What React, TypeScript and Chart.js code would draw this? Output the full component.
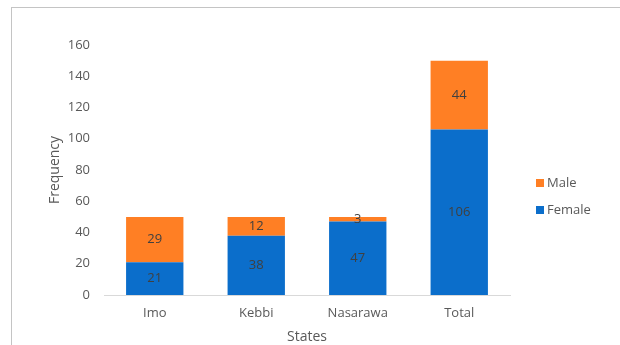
import React, { useEffect, useRef } from "react";
import { Chart, registerables } from "chart.js";

Chart.register(...registerables);

const categories = ["Imo", "Kebbi", "Nasarawa", "Total"];
const femaleValues = [21, 38, 47, 106];
const maleValues = [29, 12, 3, 44];
const yTicks = [0, 20, 40, 60, 80, 100, 120, 140, 160];

const FONT = "'Open Sans', sans-serif";
const BLUE = "#0b6ecb";
const ORANGE = "#ff7f24";

const labelPlugin = {
  id: "segLabels",
  afterDatasetsDraw(chart: any) {
    const ctx = chart.ctx;
    ctx.save();
    ctx.font = `13px ${FONT}`;
    ctx.fillStyle = "#404040";
    ctx.textAlign = "center";
    ctx.textBaseline = "middle";
    chart.data.datasets.forEach((ds: any, i: number) => {
      const meta = chart.getDatasetMeta(i);
      meta.data.forEach((el: any, j: number) => {
        const v = ds.data[j];
        const yc = (el.y + el.base) / 2;
        ctx.fillText(String(v), el.x, yc);
      });
    });
    ctx.restore();
  },
};

const legendPlugin = {
  id: "customLegend",
  afterDraw(chart: any) {
    const ctx = chart.ctx;
    ctx.save();
    ctx.font = `13px ${FONT}`;
    ctx.textBaseline = "middle";
    ctx.textAlign = "left";
    const items = [...chart.data.datasets].reverse();
    const x0 = 536;
    const y0 = 183;
    items.forEach((ds: any, k: number) => {
      const y = y0 + k * 27;
      ctx.fillStyle = ds.backgroundColor;
      ctx.fillRect(x0, y - 4, 8, 8);
      ctx.fillStyle = "#595959";
      ctx.fillText(ds.label, x0 + 11, y);
    });
    ctx.restore();
  },
};

export default function App() {
  const ref = useRef<HTMLCanvasElement>(null);
  useEffect(() => {
    if (!ref.current) return;
    const chart = new Chart(ref.current, {
      type: "bar",
      data: {
        labels: categories,
        datasets: [
          { label: "Female", data: femaleValues, backgroundColor: BLUE, barPercentage: 0.565, categoryPercentage: 1 },
          { label: "Male", data: maleValues, backgroundColor: ORANGE, barPercentage: 0.565, categoryPercentage: 1 },
        ],
      },
      options: {
        responsive: false,
        animation: false,
        layout: { padding: { left: 43, right: 110, top: 45, bottom: 0 } },
        plugins: { legend: { display: false }, tooltip: { enabled: false } },
        scales: {
          x: {
            stacked: true,
            grid: { display: false, drawTicks: false },
            border: { color: "#d9d9d9", width: 1 },
            ticks: { color: "#595959", font: { family: FONT, size: 13 }, padding: 10 },
            title: { display: true, text: "States", color: "#595959", font: { family: FONT, size: 14 }, padding: { top: 0, bottom: 0 } },
            afterFit(scale: any) { scale.height = 50; },
          },
          y: {
            stacked: true,
            min: 0,
            max: 160,
            afterBuildTicks(scale: any) { scale.ticks = yTicks.map((v) => ({ value: v })); },
            grid: { display: false, drawTicks: false },
            border: { display: false },
            ticks: { color: "#595959", font: { family: FONT, size: 13 }, padding: 14 },
            title: { display: true, text: "Frequency", color: "#595959", font: { family: FONT, size: 14 }, padding: { top: 4, bottom: 4 } },
            afterFit(scale: any) { scale.width = 61; },
          },
        },
      },
      plugins: [labelPlugin, legendPlugin],
    });
    return () => chart.destroy();
  }, []);
  return (
    <div style={{ position: "fixed", left: 0, top: 0, width: 620, height: 345, background: "#fff", overflow: "hidden" }}>
      <div style={{ position: "absolute", left: 11, top: 7, width: 700, height: 400, borderTop: "1px solid #c4c4c4", borderLeft: "1px solid #c4c4c4" }} />
      <canvas ref={ref} width={620} height={345} style={{ position: "absolute", left: 0, top: 0 }} />
    </div>
  );
}
